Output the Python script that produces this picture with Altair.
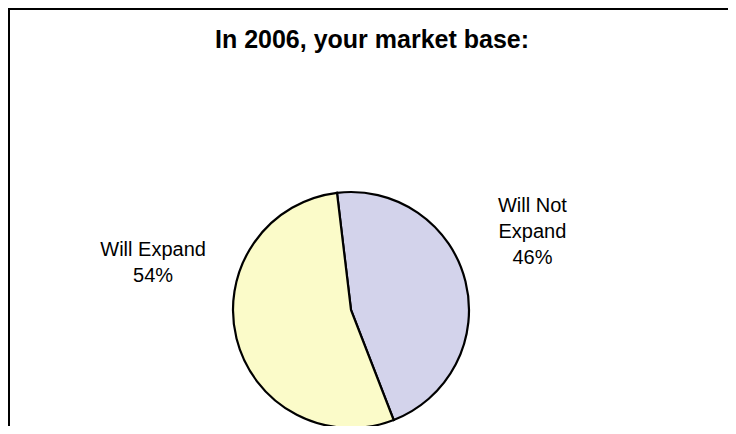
import math
import altair as alt
import pandas as pd

# ---- data ----
categories = ["Will Not Expand", "Will Expand"]
values = [46, 54]
labels = ["Will Not\nExpand\n46%", "Will Expand\n54%"]
colors = ["#d3d3eb", "#fbfbc9"]
title_text = "In 2006, your market base:"

df = pd.DataFrame({
    "category": categories,
    "value": values,
    "label": labels,
    "order": list(range(len(categories))),
})

# ---- layout ----
W, H = 720, 418
CX, CY, R = 343, 302, 118
START = -0.119
TWO_PI = 2 * math.pi
FONT = "Liberation Sans"

theta = alt.Theta(
    "value:Q", stack=True,
    scale=alt.Scale(range=[TWO_PI + START, 2 * TWO_PI + START]),
)

base = alt.Chart(df).encode(
    theta=theta,
    order=alt.Order("order:Q"),
    x=alt.value(CX),
    y=alt.value(CY),
)

pie = base.mark_arc(outerRadius=R, stroke="black", strokeWidth=2.2).encode(
    color=alt.Color("category:N", scale=alt.Scale(domain=categories, range=colors), legend=None)
)

def label_layer(cat, radius, dy):
    return base.mark_text(
        radius=radius, dy=dy, fontSize=20, font=FONT, lineBreak="\n",
        lineHeight=26, align="center", baseline="middle", color="black",
    ).encode(
        text=alt.condition(alt.datum.category == cat, alt.Text("label:N"), alt.value(""))
    )

lab_right = label_layer(categories[0], 187, -59)
lab_left = label_layer(categories[1], 204, -109)

title = alt.Chart(pd.DataFrame({"t": [title_text]})).mark_text(
    fontSize=25, fontWeight="bold", font=FONT, baseline="alphabetic", align="center", color="black"
).encode(text="t:N", x=alt.value(364), y=alt.value(40))

one = pd.DataFrame({"a": [0]})
top_rule = alt.Chart(one).mark_rule(color="black", strokeWidth=2).encode(
    x=alt.value(0), x2=alt.value(W), y=alt.value(1)
)
left_rule = alt.Chart(one).mark_rule(color="black", strokeWidth=2).encode(
    x=alt.value(1), y=alt.value(0), y2=alt.value(H)
)

chart = alt.layer(pie, lab_right, lab_left, title, top_rule, left_rule).properties(
    width=W, height=H, padding=0, autosize=alt.AutoSizeParams(type="none")
).configure_view(stroke=None).configure(background="white")

chart.save("out.html", embed_options={"renderer": "svg", "actions": False})
